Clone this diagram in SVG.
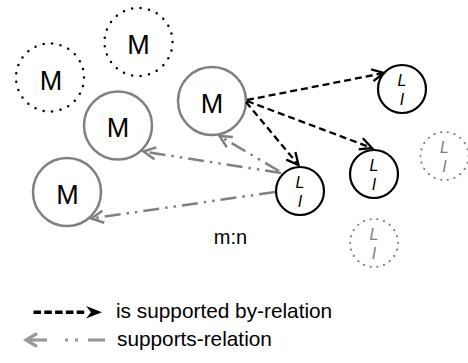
<svg xmlns="http://www.w3.org/2000/svg" width="468" height="363" viewBox="0 0 468 363">
<style>
.bg{fill:#ffffff}
.mtxt{font-family:"Liberation Sans",Arial,sans-serif;font-size:27px;fill:#000;text-anchor:middle}
.ltxt{font-family:"Liberation Sans",Arial,sans-serif;font-size:16px;font-style:italic;text-anchor:middle;fill:#000}
.ltxt.g{fill:#808080}
.gray{fill:#fff;stroke:#808080;stroke-width:2.5}
.blk{fill:#fff;stroke:#000;stroke-width:2.2}
.dotsM{fill:none;stroke:#000;stroke-width:2.5;stroke-linecap:round;stroke-dasharray:0 1}
.dotsL{fill:none;stroke:#808080;stroke-width:2.2;stroke-linecap:round;stroke-dasharray:0 1}
.faint{fill:#fff;stroke:#c8c8c8;stroke-width:0.6;stroke-dasharray:1 1.5}
.isb{fill:none;stroke:#000;stroke-width:2.3;stroke-dasharray:7 4;marker-end:url(#ab)}
.sup{fill:none;stroke:#808080;stroke-width:2.5;stroke-dasharray:16 6 2.5 6 2.5 6;marker-end:url(#ag)}
.leg{font-family:"Liberation Sans",Arial,sans-serif;font-size:20.8px;fill:#000}
.mn{font-family:"Liberation Sans",Arial,sans-serif;font-size:20px;fill:#000;text-anchor:middle}
</style>
<defs>
<marker id="ab" markerUnits="userSpaceOnUse" markerWidth="16" markerHeight="16" refX="13" refY="7" orient="auto" overflow="visible">
<path d="M1,1 L13,7 L1,13" fill="none" stroke="#000" stroke-width="2.3" stroke-linejoin="miter"/>
</marker>
<marker id="ag" markerUnits="userSpaceOnUse" markerWidth="16" markerHeight="16" refX="13" refY="7" orient="auto" overflow="visible">
<path d="M1,1 L13,7 L1,13" fill="none" stroke="#808080" stroke-width="2.5" stroke-linejoin="miter"/>
</marker>
</defs>
<rect class="bg" x="0" y="0" width="468" height="363"/>

<g id="node-m1">
<circle class="faint" cx="50" cy="77.5" r="34"/>
<circle class="dotsM" cx="50" cy="77.5" r="34" pathLength="25"/>
<text class="mtxt" x="51" y="90">M</text>
</g>
<g id="node-m2">
<circle class="faint" cx="138.5" cy="42" r="34"/>
<circle class="dotsM" cx="138.5" cy="42" r="34" pathLength="25"/>
<text class="mtxt" x="138.5" y="54">M</text>
</g>
<g id="node-m3">
<circle class="gray" cx="118" cy="125.5" r="34"/>
<text class="mtxt" x="118" y="137">M</text>
</g>
<g id="node-m4">
<circle class="gray" cx="67" cy="192" r="34"/>
<text class="mtxt" x="67.5" y="204">M</text>
</g>
<g id="node-m5">
<circle class="gray" cx="212" cy="101" r="34"/>
<text class="mtxt" x="212" y="112.5">M</text>
</g>

<g id="node-l1">
<circle class="blk" cx="300" cy="191" r="24"/>
<text class="ltxt" x="300" y="188">L</text>
<text class="ltxt" x="300" y="206.5">I</text>
</g>
<g id="node-l2">
<circle class="blk" cx="402" cy="89" r="24"/>
<text class="ltxt" x="402" y="86">L</text>
<text class="ltxt" x="402" y="104.5">I</text>
</g>
<g id="node-l3">
<circle class="blk" cx="374" cy="174" r="24"/>
<text class="ltxt" x="374" y="171">L</text>
<text class="ltxt" x="374" y="189.5">I</text>
</g>
<g id="node-l4">
<circle class="faint" cx="444.5" cy="156" r="24"/>
<circle class="dotsL" cx="444.5" cy="156" r="24" pathLength="22"/>
<text class="ltxt g" x="444.5" y="153">L</text>
<text class="ltxt g" x="444.5" y="171.5">I</text>
</g>
<g id="node-l5">
<circle class="faint" cx="374" cy="243" r="24"/>
<circle class="dotsL" cx="374" cy="243" r="24" pathLength="22"/>
<text class="ltxt g" x="374" y="240">L</text>
<text class="ltxt g" x="374" y="258.5">I</text>
</g>

<g id="connectors">
<line class="isb" x1="247" y1="100" x2="384" y2="73"/>
<line class="isb" x1="247" y1="101" x2="372" y2="148"/>
<line class="isb" x1="246" y1="102" x2="298.5" y2="165"/>
<line class="sup" x1="279" y1="171" x2="219.5" y2="136"/>
<line class="sup" x1="281" y1="173" x2="143.5" y2="151.5"/>
<line class="sup" x1="275" y1="192" x2="91.5" y2="218.5"/>
</g>

<text class="mn" x="230.5" y="244">m:n</text>

<g id="legend">
<line x1="33.5" y1="312.3" x2="86" y2="312.3" stroke="#000" stroke-width="3.4" stroke-dasharray="7.5 3.3"/>
<polygon points="86,306 102,312.3 86,318.6 91,312.3" fill="#000"/>
<text class="leg" x="116" y="318">is supported by-relation</text>
<polyline points="37,333.5 26,340 37,346.5" fill="none" stroke="#999" stroke-width="3.2"/>
<line x1="26.5" y1="340" x2="47" y2="340" stroke="#999" stroke-width="3.2"/>
<line x1="65" y1="340" x2="68" y2="340" stroke="#999" stroke-width="3.2"/>
<line x1="75" y1="340" x2="78" y2="340" stroke="#999" stroke-width="3.2"/>
<line x1="88" y1="340" x2="105" y2="340" stroke="#999" stroke-width="3.2"/>
<text class="leg" x="117" y="345.5">supports-relation</text>
</g>
</svg>
